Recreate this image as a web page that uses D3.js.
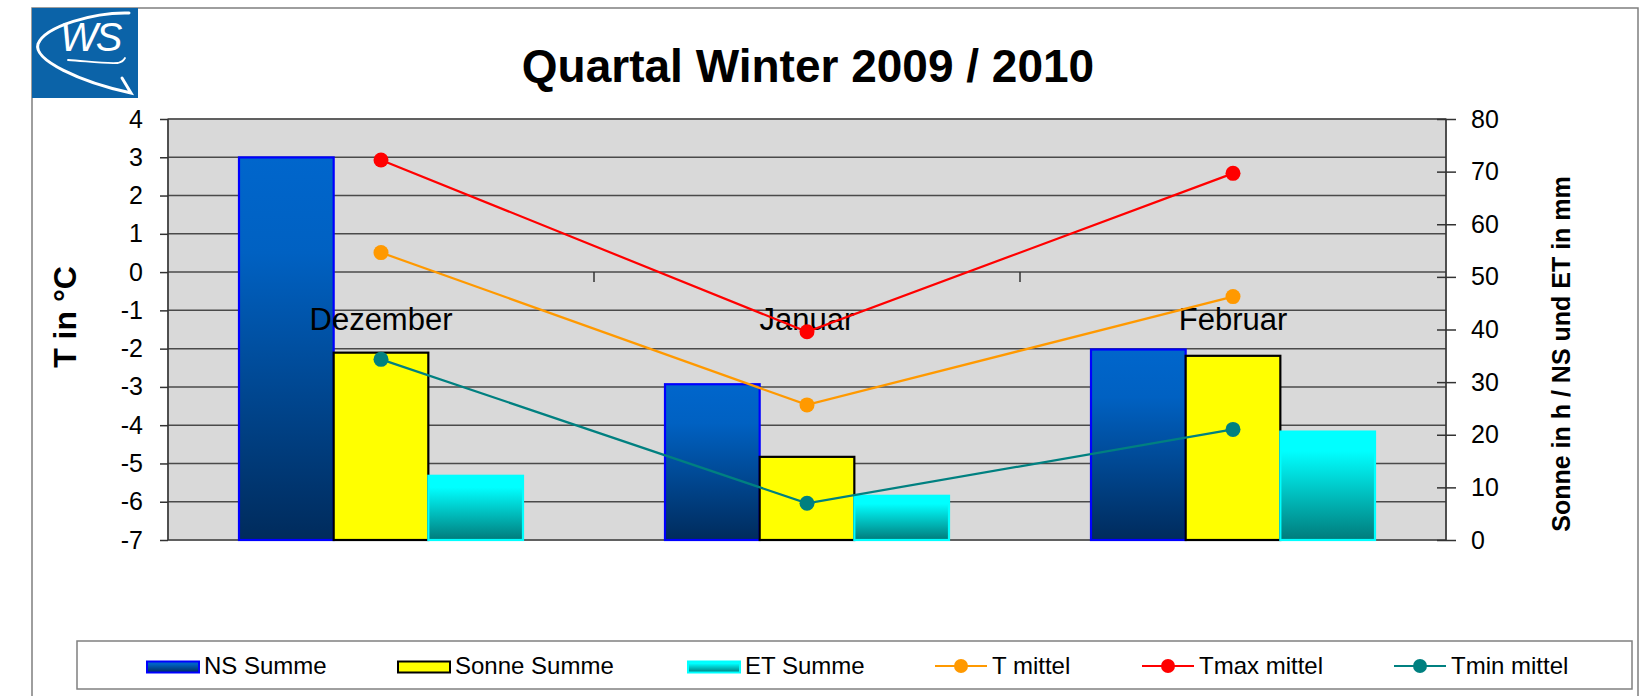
<!DOCTYPE html>
<html>
<head>
<meta charset="utf-8">
<script src="https://cdn.jsdelivr.net/npm/d3@7"></script>
<style>
  body { margin: 0; background: #fff; }
  svg { display: block; font-family: "Liberation Sans", Arial, sans-serif; }
</style>
</head>
<body>
<svg id="chart" width="1646" height="696"></svg>
<script>
// data
const months = ["Dezember", "Januar", "Februar"];
const nsSumme = [72.7, 29.6, 36.2];
const sonneSumme = [35.6, 15.8, 35.0];
const etSumme = [12.2, 8.4, 20.6];
const tMittel = [0.51, -3.47, -0.64];
const tMax = [2.93, -1.56, 2.58];
const tMin = [-2.28, -6.04, -4.11];
const leftTicks = d3.range(-7, 5);
const rightTicks = d3.range(0, 81, 10);

const barSeries = [
  { name: "NS Summe", values: nsSumme, fill: "url(#gradNS)", stroke: "#0000ff" },
  { name: "Sonne Summe", values: sonneSumme, fill: "#ffff00", stroke: "#000000" },
  { name: "ET Summe", values: etSumme, fill: "url(#gradET)", stroke: "#00ffff" }
];
const lineSeries = [
  { name: "T mittel", values: tMittel, color: "#ff9900" },
  { name: "Tmax mittel", values: tMax, color: "#ff0000" },
  { name: "Tmin mittel", values: tMin, color: "#008080" }
];

const svg = d3.select("#chart");
const plot = { left: 168, right: 1446, top: 119, bottom: 540 };

// gradients
const defs = svg.append("defs");
const gNS = defs.append("linearGradient").attr("id", "gradNS")
  .attr("x1", 0).attr("y1", 0).attr("x2", 0).attr("y2", 1);
gNS.append("stop").attr("offset", "0%").attr("stop-color", "#0066cc");
gNS.append("stop").attr("offset", "25%").attr("stop-color", "#0061c2");
gNS.append("stop").attr("offset", "100%").attr("stop-color", "#002b5c");
const gET = defs.append("linearGradient").attr("id", "gradET")
  .attr("x1", 0).attr("y1", 0).attr("x2", 0).attr("y2", 1);
gET.append("stop").attr("offset", "0%").attr("stop-color", "#00ffff");
gET.append("stop").attr("offset", "18%").attr("stop-color", "#00ffff");
gET.append("stop").attr("offset", "100%").attr("stop-color", "#007b7b");

// outer frame
svg.append("path")
  .attr("d", "M32,696 L32,8 L1638,8 L1638,696")
  .attr("fill", "none").attr("stroke", "#7f7f7f").attr("stroke-width", 1.5);

// logo
const logo = svg.append("g");
logo.append("rect").attr("x", 32).attr("y", 8).attr("width", 106).attr("height", 90).attr("fill", "#0b63a8");
logo.append("path")
  .attr("d", "M129,13 C95,12 45,26 38,44 C33,60 80,82 131,93 L122,78")
  .attr("fill", "none").attr("stroke", "#fff").attr("stroke-width", 3).attr("stroke-linecap", "round");
logo.append("path")
  .attr("d", "M68,60 C85,61 105,64 118,63 C122,62 124,60 125,58")
  .attr("fill", "none").attr("stroke", "#fff").attr("stroke-width", 1.8).attr("stroke-linecap", "round");
logo.append("text").attr("x", 60).attr("y", 51)
  .attr("font-size", 40).attr("font-style", "italic").attr("fill", "#fff")
  .attr("letter-spacing", -2).text("WS");

// title
svg.append("text").attr("x", 808).attr("y", 82).attr("text-anchor", "middle")
  .attr("font-size", 46).attr("font-weight", "bold").text("Quartal Winter 2009 / 2010");

// scales
const yL = d3.scaleLinear().domain([-7, 4]).range([plot.bottom, plot.top]);
const yR = d3.scaleLinear().domain([0, 80]).range([plot.bottom, plot.top]);
const x0 = d3.scaleBand().domain(months).range([plot.left, plot.right]);
const bw = x0.bandwidth();
const x1 = d3.scaleBand().domain(barSeries.map(d => d.name)).range([bw / 6, bw * 5 / 6]);

// plot area
svg.append("rect").attr("x", plot.left).attr("y", plot.top)
  .attr("width", plot.right - plot.left).attr("height", plot.bottom - plot.top)
  .attr("fill", "#d9d9d9").attr("stroke", "#8c8c8c").attr("stroke-width", 1.5);

svg.append("g").selectAll("line").data(leftTicks).join("line")
  .attr("x1", plot.left).attr("x2", plot.right)
  .attr("y1", d => yL(d)).attr("y2", d => yL(d))
  .attr("stroke", "#4a4a4a").attr("stroke-width", 1.5);

// category axis at 0 with ticks between months
svg.append("g").selectAll("line").data(months.slice(1)).join("line")
  .attr("x1", d => x0(d)).attr("x2", d => x0(d))
  .attr("y1", yL(0)).attr("y2", yL(0) + 10)
  .attr("stroke", "#333").attr("stroke-width", 1.5);

// bars
const groups = svg.append("g").selectAll("g").data(barSeries).join("g");
groups.selectAll("rect").data(s => s.values.map((v, i) => ({ s, v, m: months[i] }))).join("rect")
  .attr("x", d => x0(d.m) + x1(d.s.name))
  .attr("y", d => yR(d.v))
  .attr("width", x1.bandwidth())
  .attr("height", d => yR(0) - yR(d.v))
  .attr("fill", d => d.s.fill)
  .attr("stroke", d => d.s.stroke)
  .attr("stroke-width", 2.2);

// category labels
svg.append("g").selectAll("text").data(months).join("text")
  .attr("x", d => x0(d) + bw / 2).attr("y", yL(0) + 58)
  .attr("text-anchor", "middle").attr("font-size", 31).text(d => d);

// lines
const line = d3.line().x((d, i) => x0(months[i]) + bw / 2).y(d => yL(d));
lineSeries.forEach(s => {
  svg.append("path").datum(s.values).attr("d", line)
    .attr("fill", "none").attr("stroke", s.color).attr("stroke-width", 2.2);
  svg.append("g").selectAll("circle").data(s.values).join("circle")
    .attr("cx", (d, i) => x0(months[i]) + bw / 2).attr("cy", d => yL(d))
    .attr("r", 7.5).attr("fill", s.color);
});

// axes
const axL = svg.append("g").attr("transform", `translate(${plot.left},0)`)
  .call(d3.axisLeft(yL).tickValues(leftTicks).tickSize(8).tickPadding(17).tickFormat(d3.format("d")));
const axR = svg.append("g").attr("transform", `translate(${plot.right},0)`)
  .call(d3.axisRight(yR).tickValues(rightTicks).tickSize(10).tickPadding(15));
[axL, axR].forEach(a => {
  a.select(".domain").attr("stroke", "#333").attr("stroke-width", 1.5);
  a.selectAll(".tick line").attr("stroke", "#333").attr("stroke-width", 1.5);
  a.selectAll(".tick text").attr("font-size", 25).attr("fill", "#000")
    .attr("font-family", "Liberation Sans, Arial, sans-serif");
});
axR.selectAll(".tick line").attr("x1", -9);
axL.select(".domain").attr("d", `M0,${plot.top}V${plot.bottom}`);
axR.select(".domain").attr("d", `M0,${plot.top}V${plot.bottom}`);
axL.selectAll(".tick text").text(d => d < 0 ? "-" + Math.abs(d) : d);

// axis titles
svg.append("text").attr("transform", "translate(76,317) rotate(-90)")
  .attr("text-anchor", "middle").attr("font-size", 32).attr("font-weight", "bold").text("T in °C");
svg.append("text").attr("transform", "translate(1570,354) rotate(-90)")
  .attr("text-anchor", "middle").attr("font-size", 25).attr("font-weight", "bold")
  .text("Sonne in h / NS und ET in mm");

// legend
svg.append("rect").attr("x", 77).attr("y", 641).attr("width", 1555).attr("height", 48)
  .attr("fill", "#fff").attr("stroke", "#808080").attr("stroke-width", 1.5);
const legendX = [147, 398, 688, 935, 1142, 1394];
const legendItems = barSeries.map(s => ({ ...s, type: "bar" }))
  .concat(lineSeries.map(s => ({ ...s, type: "line" })));
const lg = svg.append("g").selectAll("g").data(legendItems).join("g")
  .attr("transform", (d, i) => `translate(${legendX[i]},667)`);
lg.filter(d => d.type === "bar").append("rect")
  .attr("x", 0).attr("y", -5.5).attr("width", 52).attr("height", 11)
  .attr("fill", d => d.fill).attr("stroke", d => d.stroke).attr("stroke-width", 2);
lg.filter(d => d.type === "line").append("line")
  .attr("x1", 0).attr("x2", 52).attr("y1", -1).attr("y2", -1)
  .attr("stroke", d => d.color).attr("stroke-width", 2);
lg.filter(d => d.type === "line").append("circle")
  .attr("cx", 26).attr("cy", -1).attr("r", 7).attr("fill", d => d.color);
lg.append("text").attr("x", 57).attr("y", 7).attr("font-size", 24).text(d => d.name);
</script>
</body>
</html>
